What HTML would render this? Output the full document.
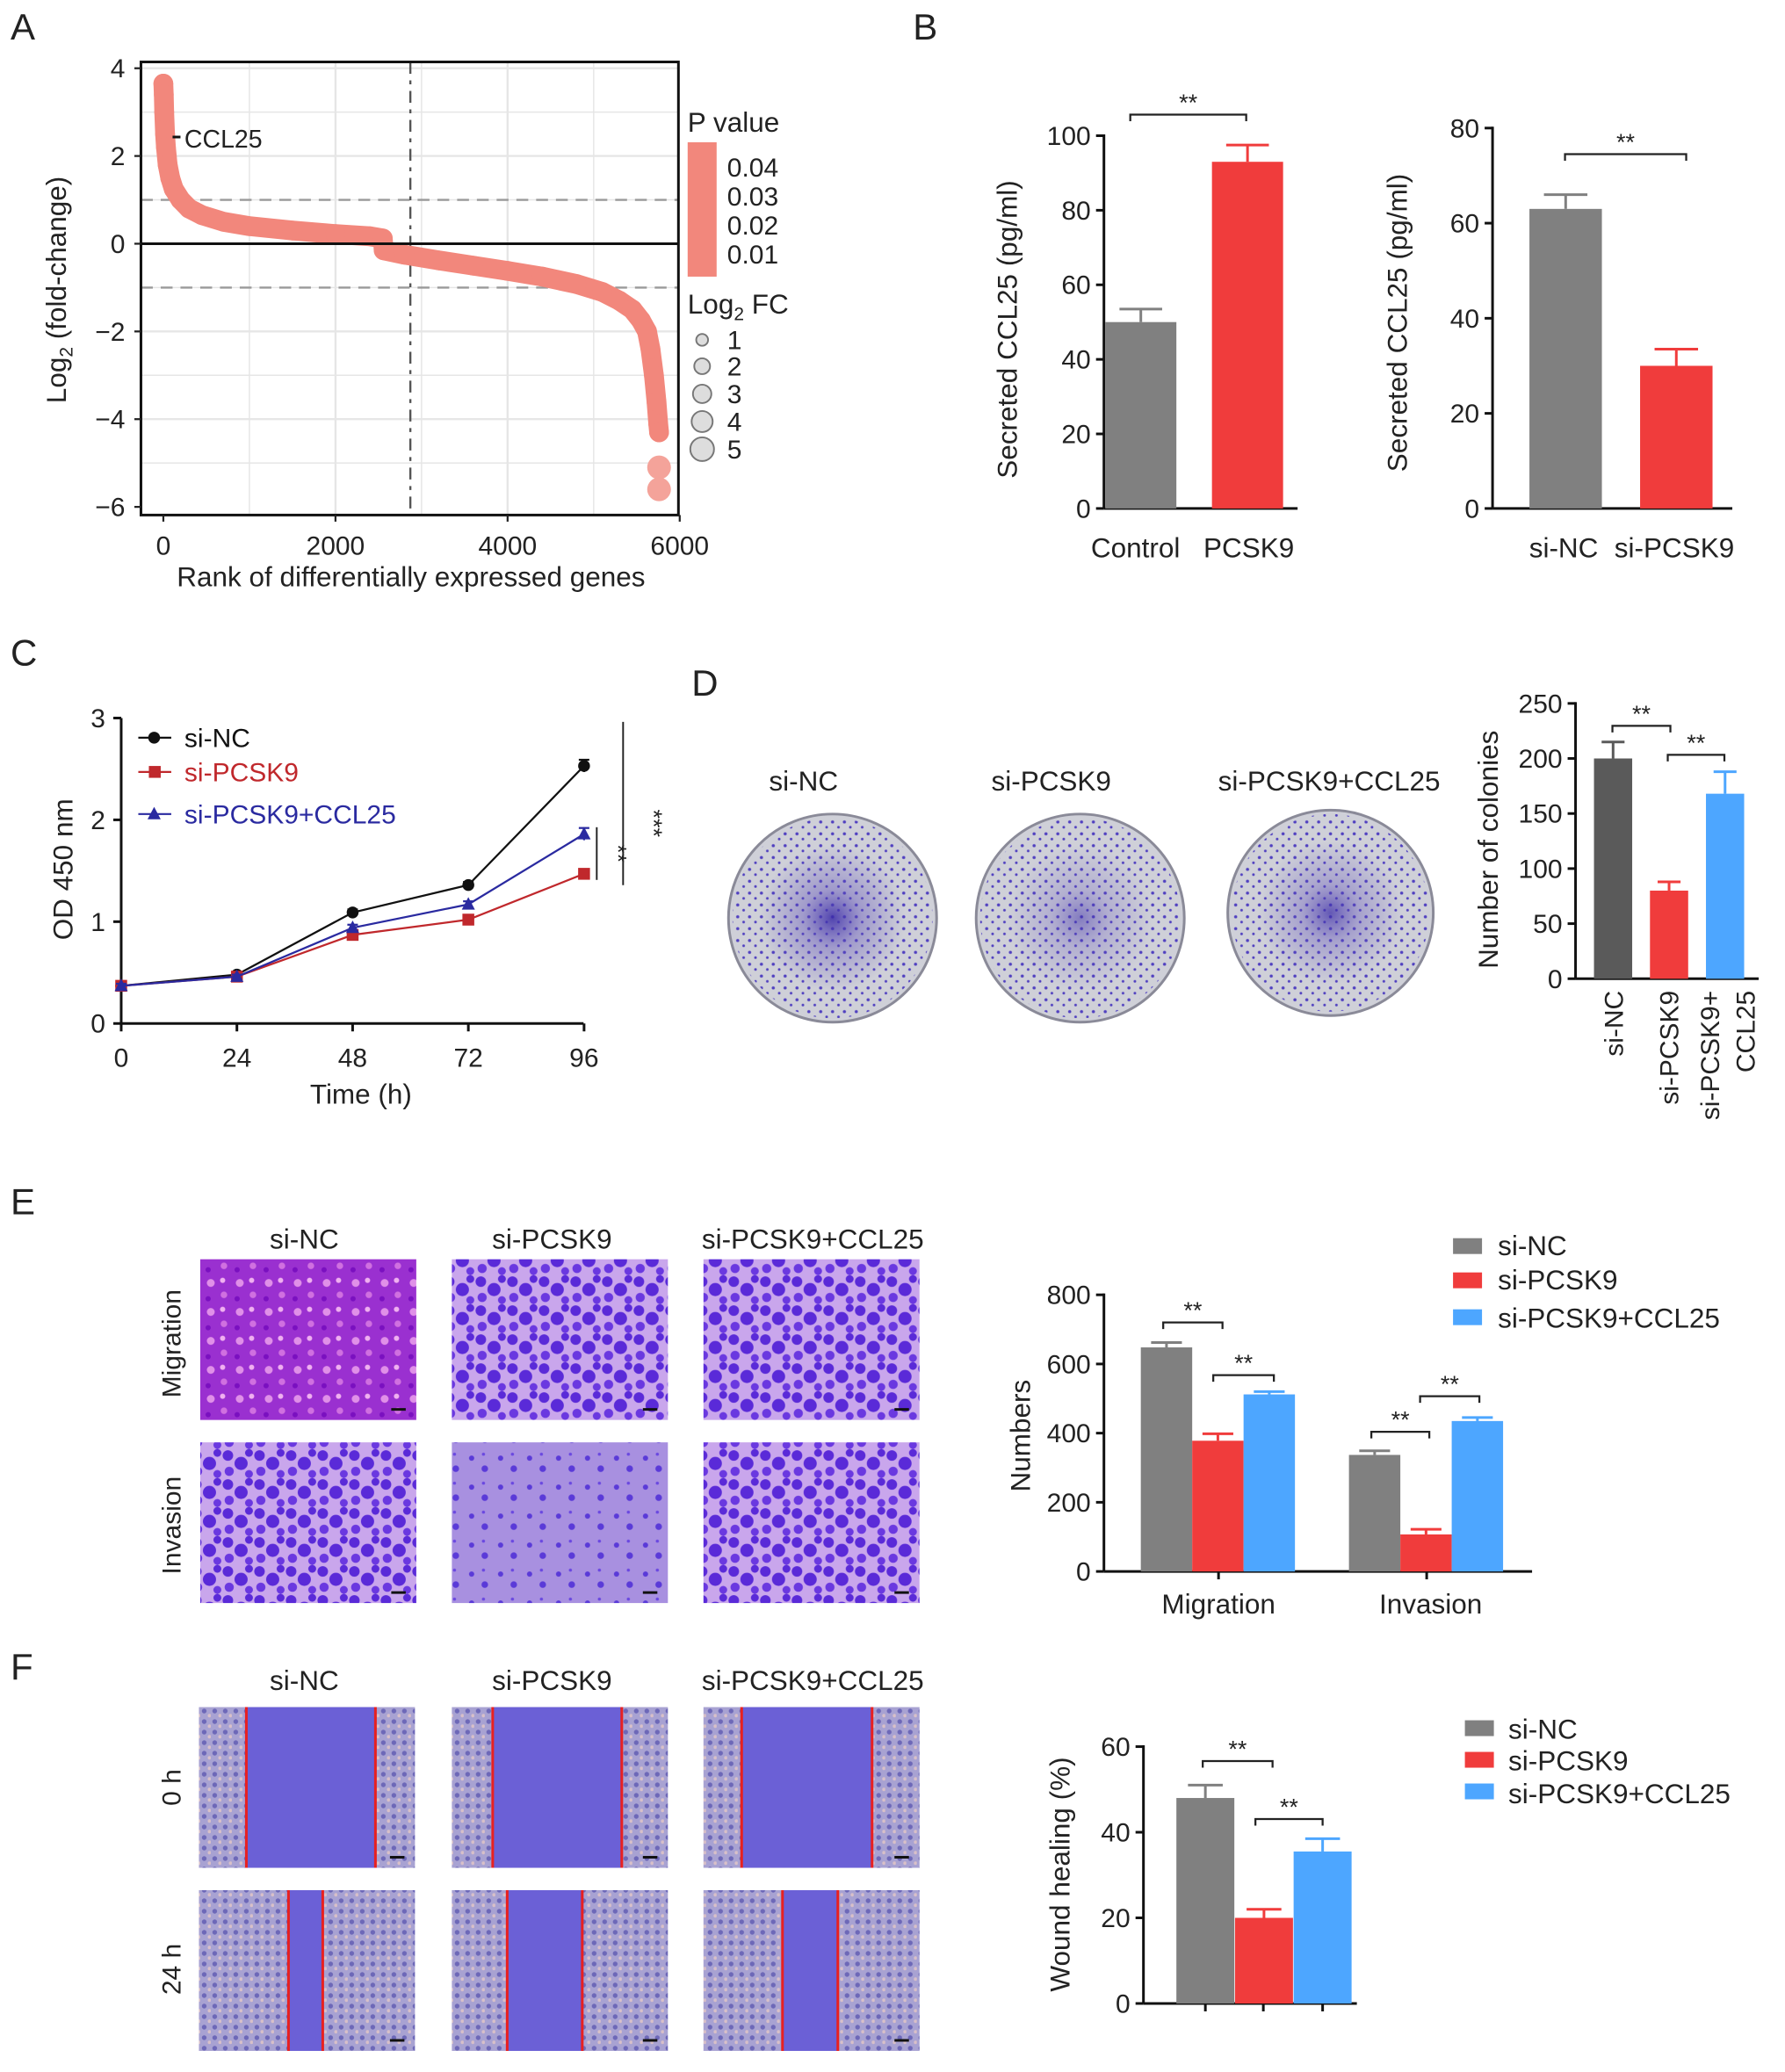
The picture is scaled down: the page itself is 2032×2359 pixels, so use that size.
<!DOCTYPE html>
<html><head><meta charset="utf-8"><style>
html,body{margin:0;padding:0;background:#fff}
svg{display:block}
text{font-family:"Liberation Sans",sans-serif;fill:#222}
</style></head><body>
<svg id="fig" width="2032" height="2359" viewBox="0 0 1355 1573" xmlns="http://www.w3.org/2000/svg">
<defs>
<pattern id="stainA" width="24" height="22" patternUnits="userSpaceOnUse">
<rect width="24" height="22" fill="#c9a6ec"/>
<circle cx="5" cy="5" r="4" fill="#5a2ad8"/><circle cx="15" cy="11" r="5" fill="#5a2ad8"/><circle cx="6" cy="17" r="3.5" fill="#6a38e0"/><circle cx="21" cy="3" r="3" fill="#5a2ad8"/><circle cx="21" cy="19" r="3" fill="#6a38e0"/>
</pattern>
<pattern id="stainM" width="22" height="22" patternUnits="userSpaceOnUse">
<rect width="22" height="22" fill="#9a30d0"/>
<circle cx="6" cy="6" r="3" fill="#e090e8"/><circle cx="16" cy="15" r="2.5" fill="#d070e0"/><circle cx="15" cy="4" r="2" fill="#f0b0f0"/><circle cx="4" cy="18" r="2" fill="#7a10c0"/>
</pattern>
<pattern id="stainL" width="22" height="22" patternUnits="userSpaceOnUse">
<rect width="22" height="22" fill="#a890e0"/>
<circle cx="6" cy="7" r="2" fill="#5a3ad8"/><circle cx="16" cy="15" r="2.5" fill="#5a3ad8"/><circle cx="15" cy="4" r="1.2" fill="#6a48e0"/>
</pattern>
<pattern id="cells" width="8" height="8" patternUnits="userSpaceOnUse">
<rect width="8" height="8" fill="#a8a2d2"/><circle cx="3" cy="3" r="1.8" fill="#6d68b8"/><circle cx="7" cy="6.5" r="1.3" fill="#d8c0c8"/>
</pattern>
<pattern id="dots" width="9" height="9" patternUnits="userSpaceOnUse">
<circle cx="2" cy="3" r="1.2" fill="#5040c0"/><circle cx="6.5" cy="7" r="1" fill="#5040c0"/>
</pattern>
<radialGradient id="plateG"><stop offset="0" stop-color="#3a2aa8" stop-opacity="0.85"/><stop offset="0.4" stop-color="#5a4ab8" stop-opacity="0.4"/><stop offset="1" stop-color="#5a4ab8" stop-opacity="0"/></radialGradient>
</defs>
<g id="root"></g>
</svg>
<script>
// Panel A data
const rankA=[0,5,10,20,30,50,80,120,200,300,450,700,1000,1500,2000,2400,2550,2560,2800,3200,3600,4000,4400,4800,5100,5300,5450,5550,5620,5660,5700,5730,5750,5760];
const fcA=[3.65,3.4,3.0,2.5,2.2,1.8,1.5,1.25,1.0,0.8,0.65,0.5,0.4,0.3,0.22,0.17,0.12,-0.15,-0.25,-0.38,-0.5,-0.62,-0.75,-0.92,-1.1,-1.3,-1.5,-1.75,-2.0,-2.4,-3.0,-3.6,-4.1,-4.3];
const outRankA=[5760,5760];
const outFcA=[-5.1,-5.6];
const yTicksA=[4,2,0,-2,-4,-6];
const xTicksA=[0,2000,4000,6000];
// Panel B
const catsB1=["Control","PCSK9"];
const valsB1=[50,93];
const errB1=[3.5,4.5];
const catsB2=["si-NC","si-PCSK9"];
const valsB2=[63,30];
const errB2=[3,3.5];
// Panel C
const timesC=[0,24,48,72,96];
const seriesNamesC=["si-NC","si-PCSK9","si-PCSK9+CCL25"];
const siNC_C=[0.37,0.48,1.09,1.36,2.53];
const siPCSK9_C=[0.37,0.46,0.87,1.02,1.47];
const siCCL25_C=[0.37,0.46,0.94,1.17,1.86];
const errNC_C=[0.03,0.02,0.03,0.03,0.06];
const errP_C=[0.02,0.02,0.03,0.03,0.03];
const errCC_C=[0.02,0.02,0.03,0.03,0.06];
// Panel D
const catsD=["si-NC","si-PCSK9","si-PCSK9+CCL25"];
const valsD=[200,80,168];
const errD=[15,8,20];
// Panel E
const groupsE=["Migration","Invasion"];
const ncE=[648,337];
const pE=[378,107];
const ccE=[512,435];
const errNcE=[14,12];
const errPE=[20,15];
const errCcE=[8,10];
// Panel F
const valsF=[48,20,35.5];
const errF=[3,2,3];

const NS="http://www.w3.org/2000/svg";
const root=document.getElementById('root');
function el(tag,attrs,parent,txt){const e=document.createElementNS(NS,tag);for(const k in attrs)e.setAttribute(k,attrs[k]);if(txt!==undefined)e.textContent=txt;(parent||root).appendChild(e);return e;}
function grp(name){const g=el('g',{});return g;}
function txt(g,x,y,s,size,anchor,extra){const t=el('text',Object.assign({x:x,y:y,'font-size':size||20,'text-anchor':anchor||'middle'},extra||{}),g,s);return t;}
function line(g,x1,y1,x2,y2,st,w,extra){return el('line',Object.assign({x1,y1,x2,y2,stroke:st||'#222','stroke-width':w||1.5},extra||{}),g);}
function rot(g,x,y,s,size){return txt(g,x,y,s,size,'middle',{transform:`rotate(-90 ${x} ${y})`});}

[["A",8,30],["B",693,30],["C",8,505],["D",525,528],["E",8,922],["F",8,1275]].forEach(p=>{const t=txt(root,p[1],p[2],p[0],28,'start');});

// ===== Panel A =====
(function(){
const g=grp('panel-a-rank-plot');
const xA=r=>124+r*0.06533, yA=v=>185-v*33.3;
const L=107,R=515,T=47,B=391;
for(let r=1000;r<6000;r+=1000)line(g,xA(r),T,xA(r),B,'#e6e6e6',r%2000?1:1.6);
for(let v=-5;v<=4;v++)line(g,L,yA(v),R,yA(v),'#e6e6e6',v%2?1:1.6);
line(g,L,yA(1),R,yA(1),'#999',1.6,{'stroke-dasharray':'9 6'});
line(g,L,yA(-1),R,yA(-1),'#999',1.6,{'stroke-dasharray':'9 6'});
line(g,xA(2870),T,xA(2870),B,'#555',1.6,{'stroke-dasharray':'9 5 3 5'});
const pts=rankA.map((r,i)=>xA(r)+','+yA(fcA[i])).join(' ');
const pl=el('polyline',{points:pts,fill:'none',stroke:'#f2877c','stroke-width':15,'stroke-linecap':'round','stroke-linejoin':'round'},g);

rankA.forEach((r,i)=>{const c=el('circle',{cx:xA(r),cy:yA(fcA[i]),r:7.5,fill:'#f2877c'},g);});
outRankA.forEach((r,i)=>{const c=el('circle',{cx:xA(r),cy:yA(outFcA[i]),r:9,fill:'#f4a39a'},g);});
line(g,L,yA(0),R,yA(0),'#111',2);
el('rect',{x:L,y:T,width:R-L,height:B-T,fill:'none',stroke:'#111','stroke-width':2},g);
yTicksA.forEach(v=>{line(g,L-5,yA(v),L,yA(v));txt(g,L-12,yA(v)+7,v<0?'−'+(-v):String(v),20,'end');});
xTicksA.forEach(r=>{line(g,xA(r),B,xA(r),B+5);txt(g,xA(r),B+30,String(r),20);});
txt(g,312,445,'Rank of differentially expressed genes',21);
const yt=el('text',{x:50,y:220,'font-size':21,'text-anchor':'middle',transform:'rotate(-90 50 220)'},g);
yt.innerHTML='Log<tspan font-size="14" dy="5">2</tspan><tspan dy="-5"> (fold-change)</tspan>';
line(g,131,104,137,104,'#111',2);
txt(g,140,112,'CCL25',19,'start');
txt(g,522,100,'P value',21,'start');
el('rect',{x:522,y:108,width:22,height:102,fill:'#f2877c'},g);
[['0.04',134],['0.03',156],['0.02',178],['0.01',200]].forEach(a=>txt(g,552,a[1],a[0],20,'start'));
const lt=el('text',{x:522,y:238,'font-size':21,'text-anchor':'start'},g);
lt.innerHTML='Log<tspan font-size="14" dy="5">2</tspan><tspan dy="-5"> FC</tspan>';
[[258,4.5],[278,6],[299,7],[320,8],[341,9]].forEach((a,i)=>{el('circle',{cx:533,cy:a[0],r:a[1],fill:'#ddd',stroke:'#777','stroke-width':1.3},g);txt(g,552,a[0]+7,String(i+1),20,'start');});
})();

function barChart(name,o){
const g=grp(name);
const y=v=>o.y0-v*o.k;
line(g,o.ax,y(o.yMax)-1,o.ax,o.y0,'#111',2);
line(g,o.ax,o.y0,o.xEnd,o.y0,'#111',2);
o.ticks.forEach(v=>{line(g,o.ax-6,y(v),o.ax,y(v),'#111',2);txt(g,o.ax-10,y(v)+7,String(v),20,'end');});
o.bars.forEach(b=>{
 const r=el('rect',{x:b.x,y:y(b.v),width:b.w,height:o.y0-y(b.v),fill:b.c},g);
 
 const cx=b.x+b.w/2;
 line(g,cx,y(b.v),cx,y(b.v+b.e),b.c,2);line(g,cx-b.w*0.3,y(b.v+b.e),cx+b.w*0.3,y(b.v+b.e),b.c,2);
});
return {g,y};
}
function bracket(g,x1,x2,yy){el('path',{d:`M${x1} ${yy+5}V${yy}H${x2}V${yy+5}`,fill:'none',stroke:'#222','stroke-width':1.5},g);txt(g,(x1+x2)/2,yy-3,'**',18);}

// ===== Panel B =====
(function(){
const cols=['#808080','#f03c3c'];
const b1=barChart('panel-b-control-vs-pcsk9',{ax:838,y0:386,k:2.83,yMax:100,xEnd:985,ticks:[0,20,40,60,80,100],
 bars:valsB1.map((v,i)=>({n:catsB1[i].toLowerCase(),x:839+i*81,w:54,v,e:errB1[i],c:cols[i]}))});
catsB1.forEach((c,i)=>txt(b1.g,862+i*86,423,c,21));
bracket(b1.g,858,946,87);
rot(b1.g,772,250,'Secreted CCL25 (pg/ml)',21);
const b2=barChart('panel-b-sinc-vs-sipcsk9',{ax:1133,y0:386,k:3.61,yMax:80,xEnd:1315,ticks:[0,20,40,60,80],
 bars:valsB2.map((v,i)=>({n:catsB2[i].toLowerCase(),x:1161+i*84,w:55,v,e:errB2[i],c:cols[i]}))});
catsB2.forEach((c,i)=>txt(b2.g,1187+i*84,423,c,21));
bracket(b2.g,1188,1280,117);
rot(b2.g,1068,245,'Secreted CCL25 (pg/ml)',21);
})();

// ===== Panel C =====
(function(){
const g=grp('panel-c-growth-curve');
const x=t=>92+t*3.66, y=v=>777-v*77.3;
line(g,92,y(3),92,777,'#111',2);line(g,92,777,443,777,'#111',2);
[0,1,2,3].forEach(v=>{line(g,86,y(v),92,y(v),'#111',2);txt(g,80,y(v)+7,String(v),20,'end');});
timesC.forEach(t=>{line(g,x(t),777,x(t),783,'#111',2);txt(g,x(t),810,String(t),20);});
txt(g,274,838,'Time (h)',21);rot(g,55,660,'OD 450 nm',21);
const S=[[siNC_C,errNC_C,'#111','circle'],[siPCSK9_C,errP_C,'#c0282c','square'],[siCCL25_C,errCC_C,'#2a2aa0','tri']];
S.forEach((s,si)=>{
 const sg=el('g',{},g);
 el('polyline',{points:timesC.map((t,i)=>x(t)+','+y(s[0][i])).join(' '),fill:'none',stroke:s[2],'stroke-width':1.5},sg);
 timesC.forEach((t,i)=>{const cx=x(t),cy=y(s[0][i]);
  line(sg,cx,y(s[0][i]-s[1][i]),cx,y(s[0][i]+s[1][i]),s[2],1.5);line(sg,cx-4,y(s[0][i]+s[1][i]),cx+4,y(s[0][i]+s[1][i]),s[2],1.5);
  if(s[3]=='circle')el('circle',{cx,cy,r:4.5,fill:s[2]},sg);
  else if(s[3]=='square')el('rect',{x:cx-4.5,y:cy-4.5,width:9,height:9,fill:s[2]},sg);
  else el('polygon',{points:`${cx},${cy-5.5} ${cx-5},${cy+4} ${cx+5},${cy+4}`,fill:s[2]},sg);});
 const ly=[560,586,618][si];
 line(sg,105,ly,130,ly,s[2],1.5);
 if(s[3]=='circle')el('circle',{cx:117,cy:ly,r:4.5,fill:s[2]},sg);else if(s[3]=='square')el('rect',{x:113,y:ly-4.5,width:9,height:9,fill:s[2]},sg);else el('polygon',{points:`117,${ly-5.5} 112,${ly+4} 122,${ly+4}`,fill:s[2]},sg);
 txt(sg,140,ly+7,seriesNamesC[si],20,'start',{style:'fill:'+(si==0?'#111':s[2])});
});
line(g,453,628,453,668,'#222',1.3);txt(g,463,648,'**',18,'middle',{transform:'rotate(90 463 648)'});
line(g,473,548,473,672,'#222',1.3);txt(g,490,625,'***',18,'middle',{transform:'rotate(90 490 625)'});
})();

// ===== Panel D plates =====
(function(){
const g=grp('panel-d-colony-plates');
[[632,697,79,'si-NC',610,1],[820,697,79,'si-PCSK9',798,0.6],[1010,693,78,'si-PCSK9+CCL25',1009,0.85]].forEach(p=>{
 const pg=el('g',{},g);
 el('circle',{cx:p[0],cy:p[1],r:p[2],fill:'#cfd0d8',stroke:'#8a8a98','stroke-width':2},pg);
 el('circle',{cx:p[0],cy:p[1],r:p[2]-3,fill:'url(#dots)'},pg);
 el('circle',{cx:p[0],cy:p[1],r:p[2]*0.7,fill:'url(#plateG)',opacity:p[5]},pg);
 txt(g,p[4],600,p[3],21);
});
})();
// ===== Panel D bars =====
(function(){
const cols=['#5a5a5a','#f03c3c','#4da6ff'];
const b=barChart('panel-d-colony-bars',{ax:1196,y0:743,k:0.836,yMax:250,xEnd:1335,ticks:[0,50,100,150,200,250],
 bars:valsD.map((v,i)=>({n:catsD[i].toLowerCase().replace('+','-'),x:1210+i*42.5,w:29,v,e:errD[i],c:cols[i]}))});
[[1232,'si-NC'],[1274,'si-PCSK9'],[1305,'si-PCSK9+']].forEach(a=>txt(b.g,a[0],752,a[1],20,'end',{transform:`rotate(-90 ${a[0]} 752)`}));
txt(b.g,1332,752,'CCL25',20,'end',{transform:'rotate(-90 1332 752)'});
bracket(b.g,1224,1268,551);bracket(b.g,1266,1309,573);
rot(b.g,1137,645,'Number of colonies',21);
})();

// ===== Panel E images =====
(function(){
const g=grp('panel-e-transwell-images');
const cx=[152,343,534],names=['si-NC','si-PCSK9','si-PCSK9+CCL25'],tx=[231,419,617];
names.forEach((n,i)=>txt(g,tx[i],948,n,21));
rot(g,137,1020,'Migration',20);rot(g,137,1158,'Invasion',20);
const fills=[['url(#stainM)','url(#stainA)','url(#stainA)'],['url(#stainA)','url(#stainL)','url(#stainA)']];
[956,1095].forEach((yy,r)=>cx.forEach((xx,i)=>{const im=el('rect',{x:xx,y:yy,width:164,height:122,fill:fills[r][i]},g);line(g,xx+145,yy+114,xx+156,yy+114,'#111',2);}));
})();
// ===== Panel E bars =====
(function(){
const cols=['#808080','#f03c3c','#4da6ff'];
const arr=[ncE,pE,ccE],err=[errNcE,errPE,errCcE],bars=[];
groupsE.forEach((gname,gi)=>arr.forEach((a,si)=>bars.push({n:gname.toLowerCase()+'-'+si,x:866+gi*158+si*39,w:39,v:a[gi],e:err[si][gi],c:cols[si]})));
const b=barChart('panel-e-count-bars',{ax:838,y0:1193,k:0.2625,yMax:800,xEnd:1163,ticks:[0,200,400,600,800],bars});
groupsE.forEach((n,i)=>{line(b.g,925+i*158,1193,925+i*158,1199,'#111',2);txt(b.g,925+i*161,1225,n,21);});
bracket(b.g,883,928,1004);bracket(b.g,921,967,1044);bracket(b.g,1041,1085,1087);bracket(b.g,1078,1123,1060);
rot(b.g,782,1090,'Numbers',21);
const lg=grp('panel-e-legend');
['si-NC','si-PCSK9','si-PCSK9+CCL25'].forEach((n,i)=>{el('rect',{x:1103,y:[940,966,994][i],width:22,height:12,fill:cols[i]},lg);txt(lg,1137,[953,979,1008][i],n,21,'start');});
})();

// ===== Panel F images =====
(function(){
const g=grp('panel-f-wound-images');
const cx=[151,343,534],names=['si-NC','si-PCSK9','si-PCSK9+CCL25'],tx=[231,419,617];
names.forEach((n,i)=>txt(g,tx[i],1283,n,21));
rot(g,137,1357,'0 h',20);rot(g,137,1495,'24 h',20);
const gaps=[[[187,285],[374,472],[563,662]],[[219,245],[385,442],[594,636]]];
[1296,1435].forEach((yy,r)=>cx.forEach((xx,i)=>{
 const im=el('rect',{x:xx,y:yy,width:164,height:122,fill:'url(#cells)'},g);
 const gp=gaps[r][i];el('rect',{x:gp[0],y:yy,width:gp[1]-gp[0],height:122,fill:'#6b60d6'},g);
 line(g,gp[0],yy,gp[0],yy+122,'#e82020',2);line(g,gp[1],yy,gp[1],yy+122,'#e82020',2);
 line(g,xx+145,yy+114,xx+156,yy+114,'#111',2);}));
})();
// ===== Panel F bars =====
(function(){
const cols=['#808080','#f03c3c','#4da6ff'],nm=['si-nc','si-pcsk9','si-pcsk9-ccl25'];
const b=barChart('panel-f-wound-bars',{ax:868,y0:1521,k:3.25,yMax:60,xEnd:1030,ticks:[0,20,40,60],
 bars:valsF.map((v,i)=>({n:nm[i],x:893+i*44.5,w:44,v,e:errF[i],c:cols[i]}))});
[915,959,1004].forEach(x=>line(b.g,x,1521,x,1527,'#111',2));
bracket(b.g,913,966,1337);bracket(b.g,953,1004,1381);
rot(b.g,812,1423,'Wound healing (%)',21);
const lg=grp('panel-f-legend');
['si-NC','si-PCSK9','si-PCSK9+CCL25'].forEach((n,i)=>{el('rect',{x:1112,y:[1306,1330,1354][i],width:22,height:12,fill:cols[i]},lg);txt(lg,1145,[1320,1344,1369][i],n,21,'start');});
})();
</script>
</body></html>
